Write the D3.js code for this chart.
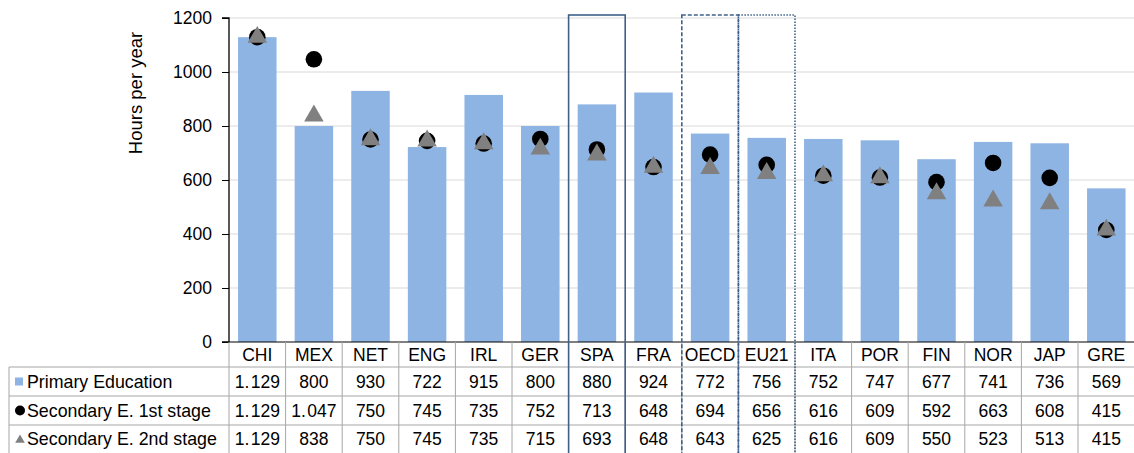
<!DOCTYPE html>
<html><head><meta charset="utf-8">
<script src="https://cdn.jsdelivr.net/npm/d3@7"></script>
<style>body{margin:0;background:#fff}svg{display:block;font-family:"Liberation Sans",Arial,sans-serif}</style>
</head><body><svg id="c" width="1134" height="453"></svg>
<script>
const categories = ["CHI","MEX","NET","ENG","IRL","GER","SPA","FRA","OECD","EU21","ITA","POR","FIN","NOR","JAP","GRE"];
const primary = [1129,800,930,722,915,800,880,924,772,756,752,747,677,741,736,569];
const secondary1 = [1129,1047,750,745,735,752,713,648,694,656,616,609,592,663,608,415];
const secondary2 = [1129,838,750,745,735,715,693,648,643,625,616,609,550,523,513,415];
const seriesNames = ["Primary Education","Secondary E. 1st stage","Secondary E. 2nd stage"];
const yTicks = [0,200,400,600,800,1000,1200];
const yLabel = "Hours per year";
const boxed = [{cat:"SPA",dash:null},{cat:"OECD",dash:"4,2"},{cat:"EU21",dash:"1.5,1.5"}];

const svg = d3.select("#c");
const pL = 229, pR = 1134.6, pT = 18, pB = 342;
const x = d3.scaleBand().domain(categories).range([pL,pR]).paddingInner(0.32).paddingOuter(0.16);
const y = d3.scaleLinear().domain([0,1200]).range([pB,pT]);
const fmt = v => v >= 1000 ? Math.floor(v/1000) + ".\u200A" + String(v%1000).padStart(3,"0") : String(v);

// gridlines
svg.append("g").selectAll("line").data(yTicks.filter(d=>d>0)).join("line")
  .attr("x1",pL).attr("x2",pR).attr("y1",d=>y(d)).attr("y2",d=>y(d))
  .attr("stroke","#d9d9d9").attr("stroke-width",1);

// bars
svg.append("g").selectAll("rect").data(primary).join("rect")
  .attr("x",(d,i)=>x(categories[i])).attr("width",x.bandwidth())
  .attr("y",d=>y(d)).attr("height",d=>pB-y(d))
  .attr("fill","#8EB4E3");

// markers
const cx = i => x(categories[i]) + x.bandwidth()/2;
svg.append("g").selectAll("circle").data(secondary1).join("circle")
  .attr("cx",(d,i)=>cx(i)).attr("cy",d=>y(d)).attr("r",8.3).attr("fill","#000");
const tri = d3.symbol().type(d3.symbolTriangle).size(165);
svg.append("g").selectAll("path").data(secondary2).join("path")
  .attr("d",tri).attr("transform",(d,i)=>`translate(${cx(i)},${y(d)})`).attr("fill","#808080");

// y axis
const ya = svg.append("g").attr("transform",`translate(${pL},0)`)
  .call(d3.axisLeft(y).tickValues(yTicks).tickSize(7).tickPadding(10).tickFormat(d3.format("d")));
ya.select(".domain").attr("stroke","#000").attr("stroke-width",1.3).attr("d",`M-7,${pT}H0V${pB}H-7`);
ya.selectAll(".tick line").attr("stroke","#000");
ya.selectAll("text").attr("font-size",17.5).attr("fill","#000").attr("font-family","Liberation Sans, Arial, sans-serif");
svg.append("line").attr("x1",pL).attr("x2",pR).attr("y1",pB).attr("y2",pB).attr("stroke","#000").attr("stroke-width",1);

svg.append("text").attr("transform",`translate(142,93) rotate(-90)`)
  .attr("text-anchor","middle").attr("font-size",18.5).attr("fill","#000").text(yLabel);

// data table
const rows = [pB, 367, 396, 425, 453];
const g = svg.append("g");
const step = x.step();
const colEdges = categories.map(c => x(c) - (step - x.bandwidth())/2);
const lineC = "#a6a6a6";
colEdges.forEach((e,i)=>{ if(i>0) g.append("line").attr("x1",e).attr("x2",e).attr("y1",pB).attr("y2",453).attr("stroke",lineC); });
g.append("line").attr("x1",pL).attr("x2",pL).attr("y1",pB).attr("y2",453).attr("stroke",lineC);
[367,396,425].forEach(r=> g.append("line").attr("x1",9).attr("x2",pR).attr("y1",r).attr("y2",r).attr("stroke",lineC));
g.append("line").attr("x1",9).attr("x2",9).attr("y1",367).attr("y2",453).attr("stroke",lineC);
g.selectAll("text.h").data(categories).join("text").attr("class","h")
  .attr("x",c=>x(c)+x.bandwidth()/2).attr("y",(rows[0]+rows[1])/2+6)
  .attr("text-anchor","middle").attr("font-size",17.5).attr("fill","#000").text(c=>c);
const series = [primary, secondary1, secondary2];
series.forEach((s,si)=>{
  const ym = (rows[si+1]+rows[si+2])/2;
  g.selectAll("text.v"+si).data(s).join("text").attr("class","v"+si)
    .attr("x",(d,i)=>cx(i)).attr("y",ym+6).attr("text-anchor","middle")
    .attr("font-size",17.5).attr("fill","#000").text(d=>fmt(d));
  g.append("text").attr("x",27).attr("y",ym+6).attr("font-size",17.8).attr("fill","#000").text(seriesNames[si]);
  if(si===0) g.append("rect").attr("x",15).attr("y",ym-4).attr("width",8).attr("height",8).attr("fill","#8EB4E3");
  if(si===1) g.append("circle").attr("cx",20).attr("cy",ym).attr("r",5).attr("fill","#000");
  if(si===2) g.append("path").attr("d",d3.symbol().type(d3.symbolTriangle).size(40)).attr("transform",`translate(20,${ym+1})`).attr("fill","#808080");
});

// highlight boxes
boxed.forEach(b=>{
  const i = categories.indexOf(b.cat);
  const x0 = colEdges[i], x1 = x0 + step;
  svg.append("rect").attr("x",x0).attr("y",15).attr("width",x1-x0).attr("height",453-15+2)
    .attr("fill","none").attr("stroke","#3f6189").attr("stroke-width",1.6)
    .attr("stroke-dasharray",b.dash);
});
</script></body></html>
